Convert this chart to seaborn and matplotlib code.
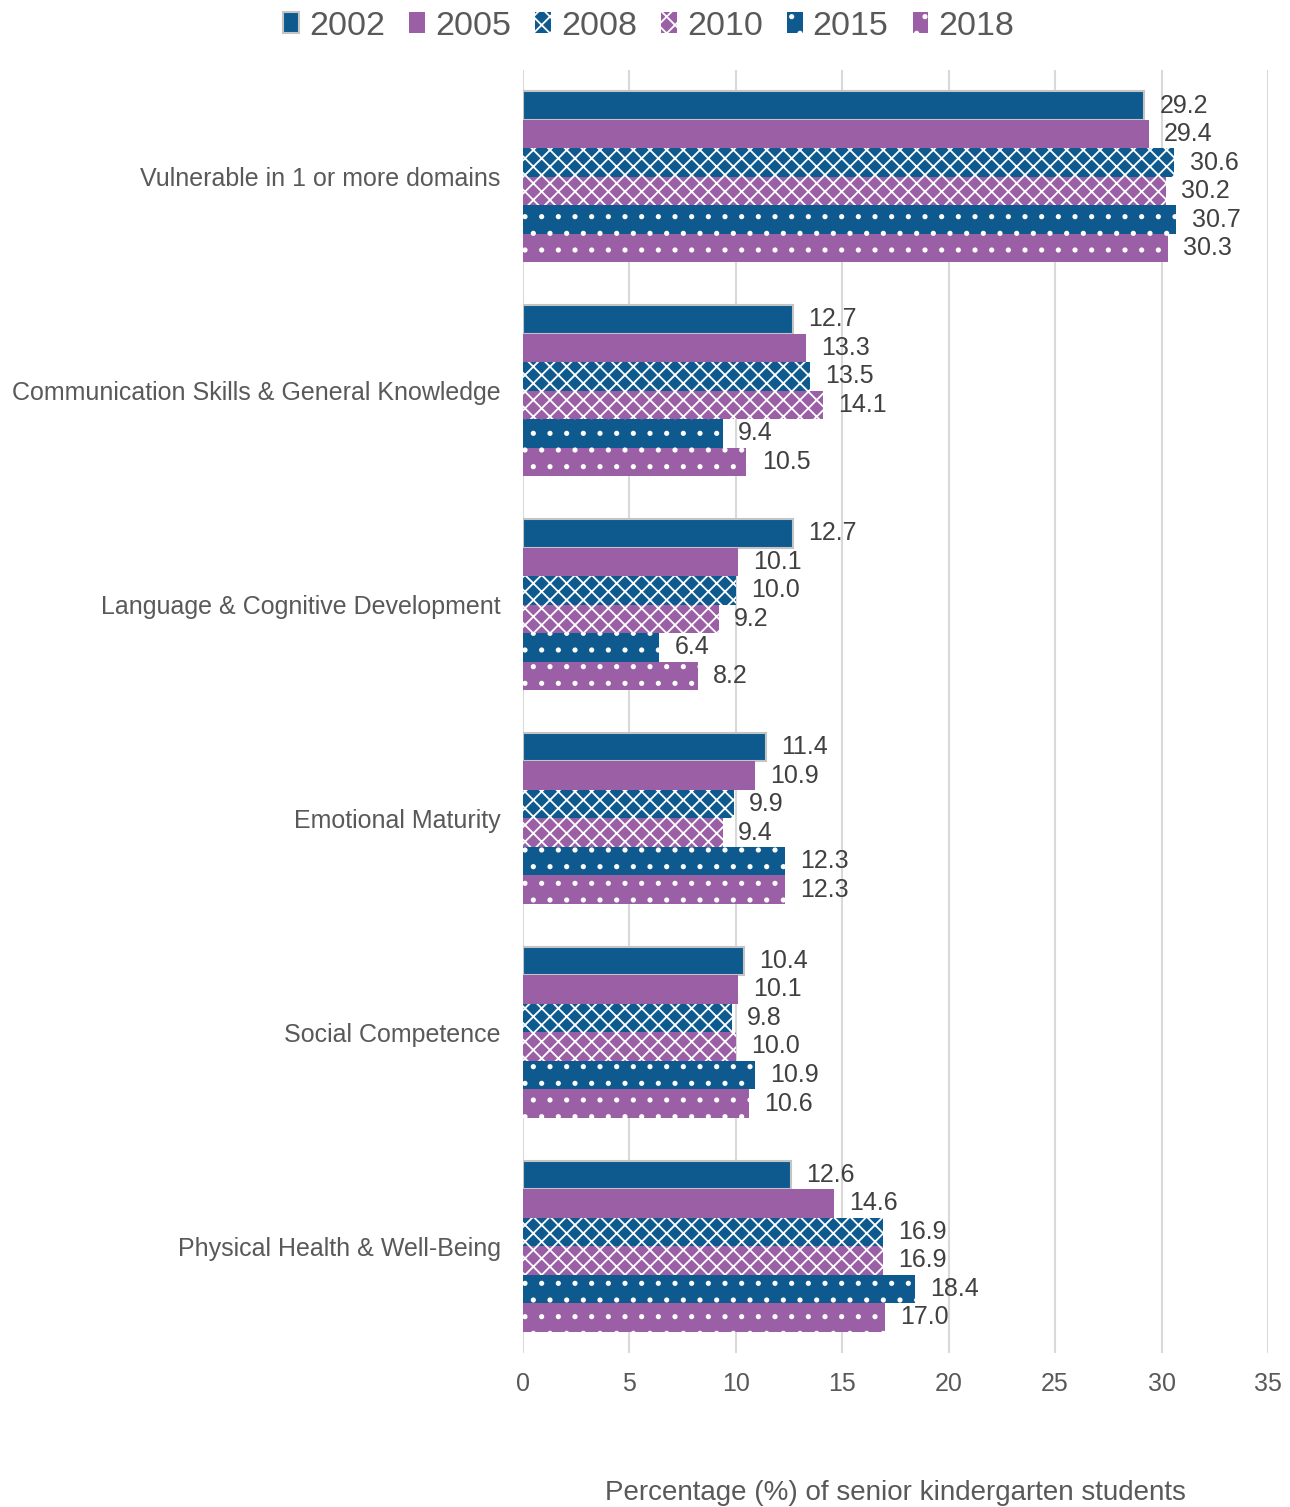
import matplotlib
matplotlib.use("Agg")
import matplotlib.pyplot as plt
from matplotlib.patches import Patch
import seaborn as sns
import pandas as pd

# data
categories = [
    "Vulnerable in 1 or more domains",
    "Communication Skills & General Knowledge",
    "Language & Cognitive Development",
    "Emotional Maturity",
    "Social Competence",
    "Physical Health & Well-Being",
]
years = ["2002", "2005", "2008", "2010", "2015", "2018"]

vals_2002 = [29.2, 12.7, 12.7, 11.4, 10.4, 12.6]
vals_2005 = [29.4, 13.3, 10.1, 10.9, 10.1, 14.6]
vals_2008 = [30.6, 13.5, 10.0, 9.9, 9.8, 16.9]
vals_2010 = [30.2, 14.1, 9.2, 9.4, 10.0, 16.9]
vals_2015 = [30.7, 9.4, 6.4, 12.3, 10.9, 18.4]
vals_2018 = [30.3, 10.5, 8.2, 12.3, 10.6, 17.0]

series = [vals_2002, vals_2005, vals_2008, vals_2010, vals_2015, vals_2018]

BLUE = "#0E5A8E"
PURPLE = "#9B5FA5"
colors = [BLUE, PURPLE, BLUE, PURPLE, BLUE, PURPLE]
hatches = [None, None, "xx", "xx", ".", "."]
TXT = "#595959"

rows = []
for yr, vals in zip(years, series):
    for cat, v in zip(categories, vals):
        rows.append({"category": cat, "year": yr, "value": v})
df = pd.DataFrame(rows)

sns.set_style("white")
plt.rcParams["font.family"] = ["Liberation Sans", "DejaVu Sans"]
plt.rcParams["hatch.linewidth"] = 1.3

fig = plt.figure(figsize=(12.9, 15.07), dpi=100)
ax = fig.add_axes([0.4054, 0.1022, 0.5775, 0.8514])

sns.barplot(data=df, y="category", x="value", hue="year", order=categories,
            hue_order=years, palette=colors, orient="h", width=0.8,
            saturation=1, ax=ax, legend=False)

for i, cont in enumerate(ax.containers):
    for bar in cont:
        if i == 0:
            bar.set_edgecolor("#C4C4C4")
            bar.set_linewidth(1.5)
        else:
            bar.set_edgecolor("white")
            bar.set_linewidth(0)
            if hatches[i]:
                bar.set_hatch(hatches[i])
    ax.bar_label(cont, fmt="%.1f", padding=11, fontsize=18, color="#404040")

ax.set_xlim(0, 35)
ax.set_xticks(range(0, 36, 5))
ax.set_ylim(5.5, -0.5)
ax.xaxis.grid(True, color="#D9D9D9", linewidth=1.5)
ax.set_axisbelow(True)
for s in ax.spines.values():
    s.set_visible(False)
ax.tick_params(axis="both", length=0, labelsize=18, labelcolor=TXT)
ax.tick_params(axis="x", pad=14)
ax.tick_params(axis="y", pad=16)
ax.set_ylabel("")
ax.set_xlabel("Percentage (%) of senior kindergarten students",
              fontsize=20, color=TXT, labelpad=60)

handles = []
for i, yr in enumerate(years):
    if i == 0:
        handles.append(Patch(facecolor=colors[i], edgecolor="#C4C4C4",
                             linewidth=1.5, label=yr))
    else:
        handles.append(Patch(facecolor=colors[i], edgecolor="white",
                             linewidth=0, hatch=hatches[i], label=yr))
fig.legend(handles=handles, loc="upper center", bbox_to_anchor=(0.503, 1.002),
           ncol=6, frameon=False, fontsize=24.5, labelcolor=TXT,
           handlelength=0.45, handleheight=0.6, handletextpad=0.3,
           columnspacing=0.72, borderaxespad=0.0)

fig.savefig("out.png", dpi=100)
